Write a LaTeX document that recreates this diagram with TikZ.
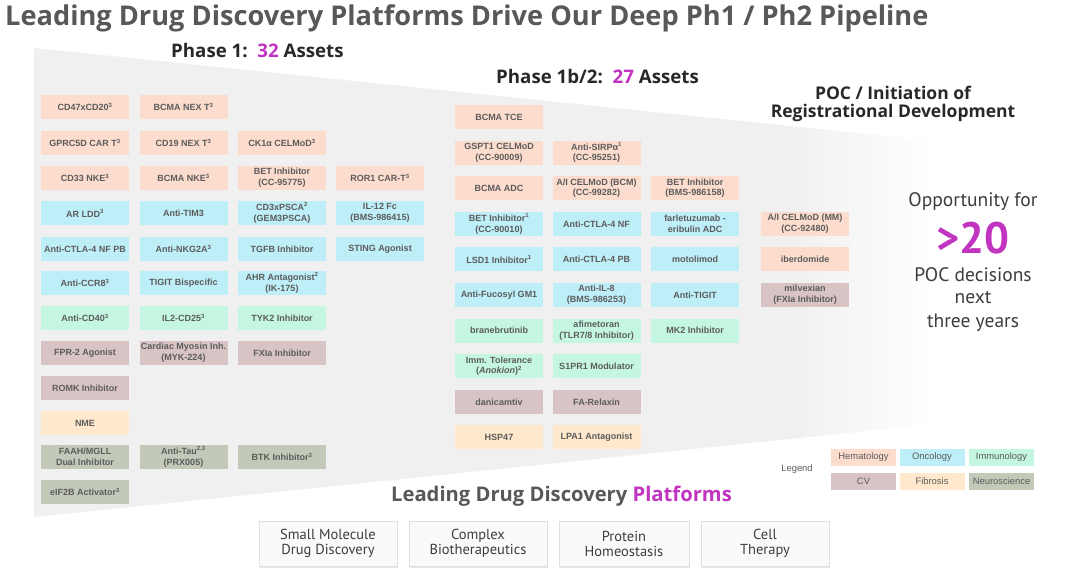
\documentclass[tikz,border=0pt]{standalone}
\usepackage{fontspec}
\setmainfont{PT Sans}
\newfontfamily\boxfont{Liberation Sans}
\newfontfamily\hfont{Open Sans}
\usetikzlibrary{shadows}
\definecolor{hemc}{RGB}{252,220,204}
\definecolor{oncc}{RGB}{190,238,248}
\definecolor{immc}{RGB}{196,246,226}
\definecolor{cvc}{RGB}{216,196,196}
\definecolor{fibc}{RGB}{255,232,204}
\definecolor{neuc}{RGB}{195,201,184}
\definecolor{boxtext}{RGB}{92,92,92}
\definecolor{titlec}{RGB}{88,88,88}
\definecolor{darkc}{RGB}{40,40,40}
\definecolor{mag}{RGB}{192,52,192}
\definecolor{wedgec}{RGB}{240,240,240}
\tikzset{
  abox/.style={rectangle, minimum width=88pt, minimum height=24pt, inner sep=0pt, align=center,
    font=\boxfont\bfseries\fontsize{9}{10.7}\selectfont, text=boxtext},
  hem/.style={abox, fill=hemc},
  onc/.style={abox, fill=oncc},
  imm/.style={abox, fill=immc},
  cv/.style={abox, fill=cvc},
  fib/.style={abox, fill=fibc},
  neu/.style={abox, fill=neuc},
  lbox/.style={rectangle, minimum width=65pt, minimum height=17pt, inner sep=0pt,
    font=\boxfont\fontsize{9.4}{10}\selectfont, text=boxtext},
  platbox/.style={rectangle, minimum height=45pt, inner sep=0pt, align=center,
    fill=white!98!black, draw=black!12, line width=0.6pt,
    drop shadow={opacity=0.18, shadow xshift=1.2pt, shadow yshift=-1.5pt},
    font=\fontsize{14.5}{15}\selectfont, text=darkc!90},
  phase/.style={anchor=base west, inner sep=0pt, font=\hfont\bfseries\fontsize{18.7}{20}\selectfont, text=darkc},
  oppo/.style={anchor=base, inner sep=0pt, font=\fontsize{19.5}{22}\selectfont, text=darkc!90},
}
\begin{document}
\begin{tikzpicture}[x=1pt,y=-1pt]
\useasboundingbox (0,0) rectangle (1080,571);
\fill[white] (0,0) rectangle (1080,571);
% wedge
\begin{scope}
\clip (34,48) -- (935,141) -- (935,424) -- (34,517) -- cycle;
\fill[wedgec] (30,40) rectangle (790,525);
\shade[left color=wedgec, right color=white] (789,40) rectangle (936,525);
\end{scope}
% titles
\node[anchor=base west, inner sep=0pt, font=\hfont\bfseries\fontsize{27.2}{30}\selectfont, text=titlec] (title) at (5,25)
  {Leading Drug Discovery Platforms Drive Our Deep Ph1 / Ph2 Pipeline};
\node[phase] (ph1) at (171,57) {Phase 1:\ \ \textcolor{mag}{32} Assets};
\node[phase] (ph2) at (496,83) {Phase 1b/2:\ \ \textcolor{mag}{27} Assets};
\node[anchor=base, inner sep=0pt, align=center, font=\hfont\bfseries\fontsize{17.5}{18}\selectfont, text=darkc] (poc1) at (893,99) {POC / Initiation of};
\node[anchor=base, inner sep=0pt, align=center, font=\hfont\bfseries\fontsize{17.5}{18}\selectfont, text=darkc] (poc2) at (893,117) {Registrational Development};
% Phase 1 boxes
\node[hem] (a11) at (85,107) {CD47xCD20\textsuperscript{3}};
\node[hem] (a12) at (183.5,107) {BCMA NEX T\textsuperscript{3}};
\node[hem] (a21) at (85,143) {GPRC5D CAR T\textsuperscript{3}};
\node[hem] (a22) at (183.5,143) {CD19 NEX T\textsuperscript{3}};
\node[hem] (a23) at (282,143) {CK1α CELMoD\textsuperscript{3}};
\node[hem] (a31) at (85,178) {CD33 NKE\textsuperscript{3}};
\node[hem] (a32) at (183.5,178) {BCMA NKE\textsuperscript{3}};
\node[hem] (a33) at (282,178) {BET Inhibitor\\(CC-95775)};
\node[hem] (a34) at (380,178) {ROR1 CAR-T\textsuperscript{3}};
\node[onc] (a41) at (85,213) {AR LDD\textsuperscript{3}};
\node[onc] (a42) at (183.5,213) {Anti-TIM3};
\node[onc] (a43) at (282,213) {CD3xPSCA\textsuperscript{2}\\(GEM3PSCA)};
\node[onc] (a44) at (380,213) {IL-12 Fc\\(BMS-986415)};
\node[onc] (a51) at (85,249) {Anti-CTLA-4 NF PB};
\node[onc] (a52) at (183.5,249) {Anti-NKG2A\textsuperscript{3}};
\node[onc] (a53) at (282,249) {TGFB Inhibitor};
\node[onc] (a54) at (380,249) {STING Agonist};
\node[onc] (a61) at (85,283) {Anti-CCR8\textsuperscript{3}};
\node[onc] (a62) at (183.5,283) {TIGIT Bispecific};
\node[onc] (a63) at (282,283) {AHR Antagonist\textsuperscript{2}\\(IK-175)};
\node[imm] (a71) at (85,318) {Anti-CD40\textsuperscript{3}};
\node[imm] (a72) at (183.5,318) {IL2-CD25\textsuperscript{3}};
\node[imm] (a73) at (282,318) {TYK2 Inhibitor};
\node[cv] (a81) at (85,353) {FPR-2 Agonist};
\node[cv] (a82) at (183.5,353) {Cardiac Myosin Inh.\\(MYK-224)};
\node[cv] (a83) at (282,353) {FXIa Inhibitor};
\node[cv] (a91) at (85,388) {ROMK Inhibitor};
\node[fib] (a101) at (85,423) {NME};
\node[neu] (a111) at (85,457) {FAAH/MGLL\\Dual Inhibitor};
\node[neu] (a112) at (183.5,457) {Anti-Tau\textsuperscript{2,3}\\(PRX005)};
\node[neu] (a113) at (282,457) {BTK Inhibitor\textsuperscript{3}};
\node[neu] (a121) at (85,492) {eIF2B Activator\textsuperscript{3}};
% Phase 1b/2 boxes
\node[hem] (b11) at (499,117) {BCMA TCE};
\node[hem] (b21) at (499,152.6) {GSPT1 CELMoD\\(CC-90009)};
\node[hem] (b22) at (596.5,152.6) {Anti-SIRPα\textsuperscript{1}\\(CC-95251)};
\node[hem] (b31) at (499,188.2) {BCMA ADC};
\node[hem] (b32) at (596.5,188.2) {A/I CELMoD (BCM)\\(CC-99282)};
\node[hem] (b33) at (695,188.2) {BET Inhibitor\\(BMS-986158)};
\node[onc] (b41) at (499,223.8) {BET Inhibitor\textsuperscript{1}\\(CC-90010)};
\node[onc] (b42) at (596.5,223.8) {Anti-CTLA-4 NF};
\node[onc] (b43) at (695,223.8) {farletuzumab -\\eribulin ADC};
\node[onc] (b51) at (499,259.4) {LSD1 Inhibitor\textsuperscript{1}};
\node[onc] (b52) at (596.5,259.4) {Anti-CTLA-4 PB};
\node[onc] (b53) at (695,259.4) {motolimod};
\node[onc] (b61) at (499,295) {Anti-Fucosyl GM1};
\node[onc] (b62) at (596.5,295) {Anti-IL-8\\(BMS-986253)};
\node[onc] (b63) at (695,295) {Anti-TIGIT};
\node[imm] (b71) at (499,330.6) {branebrutinib};
\node[imm] (b72) at (596.5,330.6) {afimetoran\\(TLR7/8 Inhibitor)};
\node[imm] (b73) at (695,330.6) {MK2 Inhibitor};
\node[imm] (b81) at (499,366.2) {Imm. Tolerance\\(\textit{Anokion})\textsuperscript{2}};
\node[imm] (b82) at (596.5,366.2) {S1PR1 Modulator};
\node[cv] (b91) at (499,401.8) {danicamtiv};
\node[cv] (b92) at (596.5,401.8) {FA-Relaxin};
\node[fib] (b101) at (499,437.4) {HSP47};
\node[fib] (b102) at (596.5,437.4) {LPA1 Antagonist};
% POC boxes
\node[hem] (c1) at (805,223.8) {A/I CELMoD (MM)\\(CC-92480)};
\node[hem] (c2) at (805,259.4) {iberdomide};
\node[cv] (c3) at (805,295) {milvexian\\(FXIa Inhibitor)};
% opportunity
\node[oppo] (op1) at (973,206) {Opportunity for};
\node[anchor=base, inner sep=0pt, font=\bfseries\fontsize{44}{44}\selectfont, text=mag] (op2) at (973,253) {>20};
\node[oppo] (op3) at (973,281) {POC decisions};
\node[oppo] (op4) at (973,303) {next};
\node[oppo] (op5) at (973,327) {three years};
% legend
\node[inner sep=0pt, font=\boxfont\fontsize{9.4}{10}\selectfont, text=boxtext] (leg) at (797,469) {Legend};
\node[lbox, fill=hemc] (l1) at (863.5,457.5) {Hematology};
\node[lbox, fill=oncc] (l2) at (932,457.5) {Oncology};
\node[lbox, fill=immc] (l3) at (1001.5,457.5) {Immunology};
\node[lbox, fill=cvc] (l4) at (863.5,481.5) {CV};
\node[lbox, fill=fibc] (l5) at (932,481.5) {Fibrosis};
\node[lbox, fill=neuc] (l6) at (1001.5,481.5) {Neuroscience};
% platforms
\node[anchor=base, inner sep=0pt, font=\hfont\bfseries\fontsize{20.2}{22}\selectfont, text=titlec] (plat) at (561.5,501)
  {Leading Drug Discovery \textcolor{mag}{Platforms}};
\node[platbox, minimum width=138pt] (p1) at (328,543.5) {Small Molecule\\Drug Discovery};
\node[platbox, minimum width=138pt] (p2) at (478,543.5) {Complex\\Biotherapeutics};
\node[platbox, minimum width=130pt] (p3) at (624,543.5) {Protein\\Homeostasis};
\node[platbox, minimum width=128pt] (p4) at (765,543.5) {Cell\\Therapy};
\end{tikzpicture}
\end{document}
